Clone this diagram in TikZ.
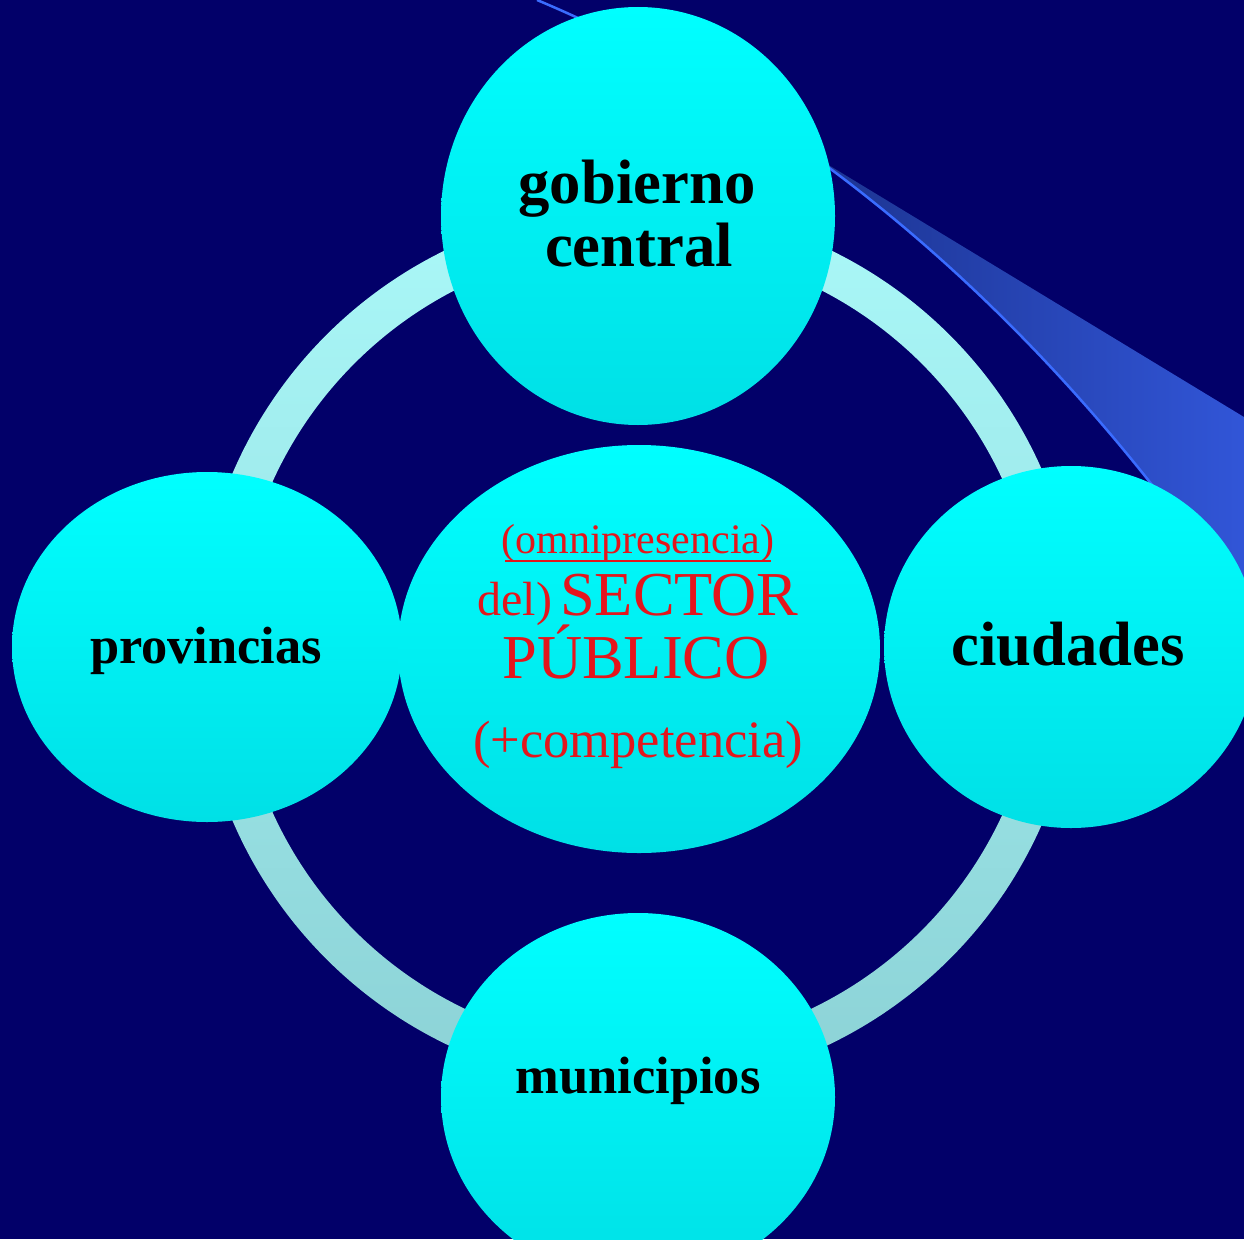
\documentclass[tikz,border=0pt]{standalone}
\usepackage{fontspec}
\setmainfont{Liberation Serif}
\usetikzlibrary{shapes.geometric}
\definecolor{bgnavy}{RGB}{2,0,105}
\definecolor{cyantop}{RGB}{0,255,255}
\definecolor{cyanbot}{RGB}{0,224,230}
\definecolor{ringtop}{RGB}{170,248,248}
\definecolor{ringbot}{RGB}{140,210,214}
\definecolor{wedgeL}{RGB}{22,42,125}
\definecolor{wedgeR}{RGB}{52,90,225}
\definecolor{bluelin}{RGB}{58,108,255}
\definecolor{redtxt}{RGB}{228,22,28}
\tikzset{
  bubble/.style={ellipse, inner sep=0pt, top color=cyantop, bottom color=cyanbot, draw=none},
  lbl/.style={anchor=base, inner sep=0pt, text=black, font=\bfseries},
  redlbl/.style={anchor=base, inner sep=0pt, text=redtxt},
}
\begin{document}
\begin{tikzpicture}[x=1pt,y=-1pt]
\useasboundingbox (0,0) rectangle (1244,1239);
\fill[bgnavy] (0,0) rectangle (1244,1239);
\clip (0,0) rectangle (1244,1239);
% decorative wedge
\coordinate (ws) at (537,0);
\coordinate (wc1) at (857,134);
\coordinate (wc2) at (1094,385);
\coordinate (we) at (1250,620);
\begin{scope}
  \clip (ws) .. controls (wc1) and (wc2) .. (we) -- (1320,620) -- (1320,-20) -- (537,-20) -- cycle;
  \shade[left color=wedgeL, right color=wedgeR] (700,87) -- (1300,451) -- (1300,720) -- (700,720) -- cycle;
\end{scope}
\draw[bluelin, line width=2.5pt] (ws) .. controls (wc1) and (wc2) .. (we);
% ring
\shade[even odd rule, top color=ringtop, bottom color=ringbot]
  (638,647) circle[radius=441pt] (638,647) circle[radius=401pt];
% bubbles
\node[bubble, minimum width=394pt, minimum height=418pt] (gob) at (638,216) {};
\node[bubble, minimum width=390pt, minimum height=350pt] (prov) at (207,647) {};
\node[bubble, minimum width=374pt, minimum height=362pt] (ciud) at (1071,647) {};
\node[bubble, minimum width=394pt, minimum height=368pt] (muni) at (638,1097) {};
\node[bubble, minimum width=482pt, minimum height=408pt] (sect) at (639,649) {};
% labels
\node[lbl, font=\bfseries\fontsize{62.7}{63}\selectfont] (t1) at (637,203) {gobierno};
\node[lbl, font=\bfseries\fontsize{62.7}{63}\selectfont] (t2) at (639,266) {central};
\node[lbl, font=\bfseries\fontsize{52.4}{53}\selectfont] (t3) at (206,663) {provincias};
\node[lbl, font=\bfseries\fontsize{62.6}{63}\selectfont] (t4) at (1068,665) {ciudades};
\node[lbl, font=\bfseries\fontsize{52.5}{53}\selectfont] (t5) at (638,1093) {municipios};
% centre text
\node[redlbl, font=\fontsize{42}{43}\selectfont] (c1) at (638,553) {(omnipresencia)};
\draw[redtxt, line width=2.2pt] ([xshift=4pt,yshift=-8pt]c1.base west) -- ([xshift=-4pt,yshift=-8pt]c1.base east);
\node[redlbl] (c2) at (638,615) {{\fontsize{48}{48}\selectfont del)}\hspace{8pt}{\fontsize{62.5}{63}\selectfont SECTOR}};
\node[redlbl, font=\fontsize{62.5}{63}\selectfont] (c3) at (636,678) {PÚBLICO};
\node[redlbl, font=\fontsize{52.5}{53}\selectfont] (c4) at (638,757) {(+competencia)};
\end{tikzpicture}
\end{document}
